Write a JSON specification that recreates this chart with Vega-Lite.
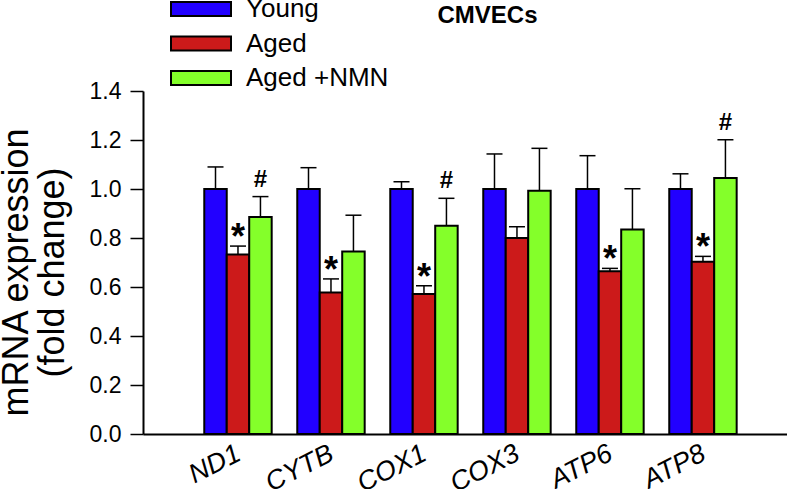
{
  "$schema": "https://vega.github.io/schema/vega-lite/v6.json",
  "width": 644,
  "height": 343,
  "autosize": {"type": "none"},
  "padding": {"left": 143, "top": 91, "right": 0, "bottom": 55},
  "background": "white",
  "config": {
    "view": {"stroke": null},
    "font": "Liberation Sans"
  },
  "data": {
    "values": [
      {"gene": "ND1", "group": "Young", "value": 1.0, "upper": 1.09, "sig": ""},
      {"gene": "ND1", "group": "Aged", "value": 0.733, "upper": 0.767, "sig": "*"},
      {"gene": "ND1", "group": "Aged +NMN", "value": 0.886, "upper": 0.969, "sig": "#"},
      {"gene": "CYTB", "group": "Young", "value": 1.0, "upper": 1.087, "sig": ""},
      {"gene": "CYTB", "group": "Aged", "value": 0.578, "upper": 0.633, "sig": "*"},
      {"gene": "CYTB", "group": "Aged +NMN", "value": 0.745, "upper": 0.893, "sig": ""},
      {"gene": "COX1", "group": "Young", "value": 1.0, "upper": 1.03, "sig": ""},
      {"gene": "COX1", "group": "Aged", "value": 0.571, "upper": 0.605, "sig": "*"},
      {"gene": "COX1", "group": "Aged +NMN", "value": 0.85, "upper": 0.962, "sig": "#"},
      {"gene": "COX3", "group": "Young", "value": 1.0, "upper": 1.143, "sig": ""},
      {"gene": "COX3", "group": "Aged", "value": 0.8, "upper": 0.846, "sig": ""},
      {"gene": "COX3", "group": "Aged +NMN", "value": 0.993, "upper": 1.166, "sig": ""},
      {"gene": "ATP6", "group": "Young", "value": 1.0, "upper": 1.136, "sig": ""},
      {"gene": "ATP6", "group": "Aged", "value": 0.664, "upper": 0.676, "sig": "*"},
      {"gene": "ATP6", "group": "Aged +NMN", "value": 0.835, "upper": 1.001, "sig": ""},
      {"gene": "ATP8", "group": "Young", "value": 1.0, "upper": 1.062, "sig": ""},
      {"gene": "ATP8", "group": "Aged", "value": 0.703, "upper": 0.725, "sig": "*"},
      {"gene": "ATP8", "group": "Aged +NMN", "value": 1.045, "upper": 1.201, "sig": "#"}
    ]
  },
  "encoding": {
    "x": {
      "field": "gene",
      "type": "nominal",
      "sort": ["ND1", "CYTB", "COX1", "COX3", "ATP6", "ATP8"],
      "scale": {"paddingInner": 0.275, "paddingOuter": 0.6, "align": 0.549},
      "axis": {
        "title": "CMVECs",
        "titleX": 344,
        "titleY": -412,
        "titleAlign": "center",
        "titleBaseline": "alphabetic",
        "titleFont": "Liberation Sans",
        "titleFontSize": 24,
        "titleFontWeight": "bold",
        "titleColor": "black",
        "labelAngle": -27,
        "labelFont": "Liberation Sans",
        "labelFontStyle": "italic",
        "labelFontSize": 27,
        "labelColor": "black",
        "labelAlign": "right",
        "labelBaseline": "top",
        "labelOffset": -5,
        "labelPadding": 6,
        "labelOverlap": false,
        "ticks": false,
        "domainColor": "black",
        "domainWidth": 2
      }
    },
    "xOffset": {
      "field": "group",
      "type": "nominal",
      "sort": ["Young", "Aged", "Aged +NMN"]
    }
  },
  "layer": [
    {
      "mark": {"type": "bar", "stroke": "black", "strokeWidth": 2, "opacity": 1},
      "encoding": {
        "y": {
          "field": "value",
          "type": "quantitative",
          "scale": {"domain": [0, 1.4], "nice": false},
          "axis": {
            "title": ["mRNA expression", "(fold change)"],
            "values": [0, 0.2, 0.4, 0.6, 0.8, 1.0, 1.2, 1.4],
            "format": ".1f",
            "grid": false,
            "tickSize": 13,
            "tickColor": "black",
            "tickWidth": 1.5,
            "domainColor": "black",
            "domainWidth": 2,
            "labelFont": "Liberation Sans",
            "labelFontSize": 23,
            "labelColor": "black",
            "labelPadding": 9,
            "titleFont": "Liberation Sans",
            "titleFontSize": 36,
            "titleFontWeight": "normal",
            "titleColor": "black",
            "titleAngle": -90,
            "titleAlign": "center",
            "titleBaseline": "alphabetic",
            "titleX": -116,
            "titleY": 181,
            "titleLineHeight": 36
          }
        },
        "color": {
          "field": "group",
          "type": "nominal",
          "sort": ["Young", "Aged", "Aged +NMN"],
          "scale": {
            "domain": ["Young", "Aged", "Aged +NMN"],
            "range": ["#2200ff", "#cc1a1a", "#84ff2a"]
          },
          "legend": {
            "orient": "none",
            "legendX": 45,
            "legendY": -95,
            "title": null,
            "symbolType": "M-4.2857,-1H4.2857V1H-4.2857Z",
            "symbolSize": 196,
            "symbolStrokeColor": "black",
            "symbolStrokeWidth": 2,
            "symbolOpacity": 1,
            "labelFont": "Liberation Sans",
            "labelFontSize": 26,
            "labelColor": "black",
            "labelOffset": 32,
            "labelLimit": 400,
            "rowPadding": 8.5,
            "padding": 0
          }
        }
      }
    },
    {
      "mark": {"type": "rule", "color": "black", "strokeWidth": 1.5},
      "encoding": {
        "y": {"field": "value", "type": "quantitative"},
        "y2": {"field": "upper"}
      }
    },
    {
      "mark": {"type": "tick", "color": "black", "size": 16, "thickness": 1.5, "orient": "horizontal", "opacity": 1},
      "encoding": {
        "y": {"field": "upper", "type": "quantitative"}
      }
    },
    {
      "transform": [{"filter": "datum.sig === '*'"}],
      "mark": {"type": "text", "font": "Liberation Sans", "fontSize": 36, "fontWeight": "bold", "color": "black", "baseline": "alphabetic", "align": "center", "dy": 3},
      "encoding": {
        "y": {"field": "upper", "type": "quantitative"},
        "text": {"field": "sig"}
      }
    },
    {
      "transform": [{"filter": "datum.sig === '#'"}],
      "mark": {"type": "text", "font": "Liberation Sans", "fontSize": 24, "fontWeight": "bold", "color": "black", "baseline": "alphabetic", "align": "center", "dy": -10},
      "encoding": {
        "y": {"field": "upper", "type": "quantitative"},
        "text": {"field": "sig"}
      }
    }
  ]
}
